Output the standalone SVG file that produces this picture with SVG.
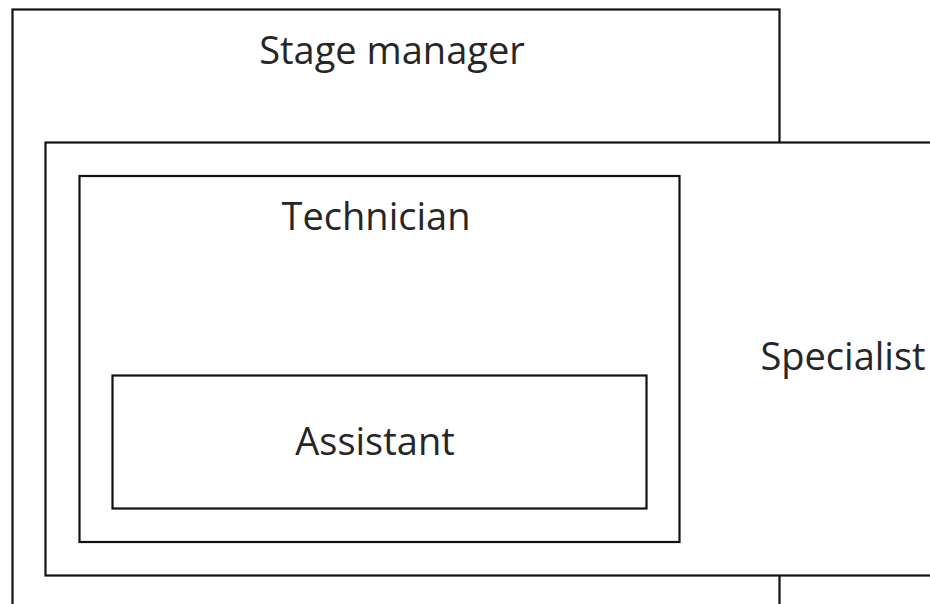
<svg xmlns="http://www.w3.org/2000/svg" width="930" height="604" viewBox="0 0 930 604">
  <style>
    .box { fill: #fff; stroke: #111; stroke-width: 2.2; }
    .label { font-family: "Open Sans", "Noto Sans", sans-serif; font-size: 38px; fill: #262626; text-anchor: middle; }
  </style>
  <rect width="930" height="604" fill="#fff"/>
  <g id="stage-manager">
    <rect class="box" x="12.5" y="9.5" width="767" height="620"/>
    <text class="label" x="392" y="64">Stage manager</text>
  </g>
  <g id="specialist">
    <rect class="box" x="45.5" y="142.5" width="920" height="433"/>
    <text class="label" x="843" y="369.5">Specialist</text>
  </g>
  <g id="technician">
    <rect class="box" x="79.5" y="176" width="600" height="366"/>
    <text class="label" x="376" y="229.5">Technician</text>
  </g>
  <g id="assistant">
    <rect class="box" x="112.5" y="375.5" width="534" height="133"/>
    <text class="label" x="375" y="454.5">Assistant</text>
  </g>
  <g id="connectors"/>
</svg>
